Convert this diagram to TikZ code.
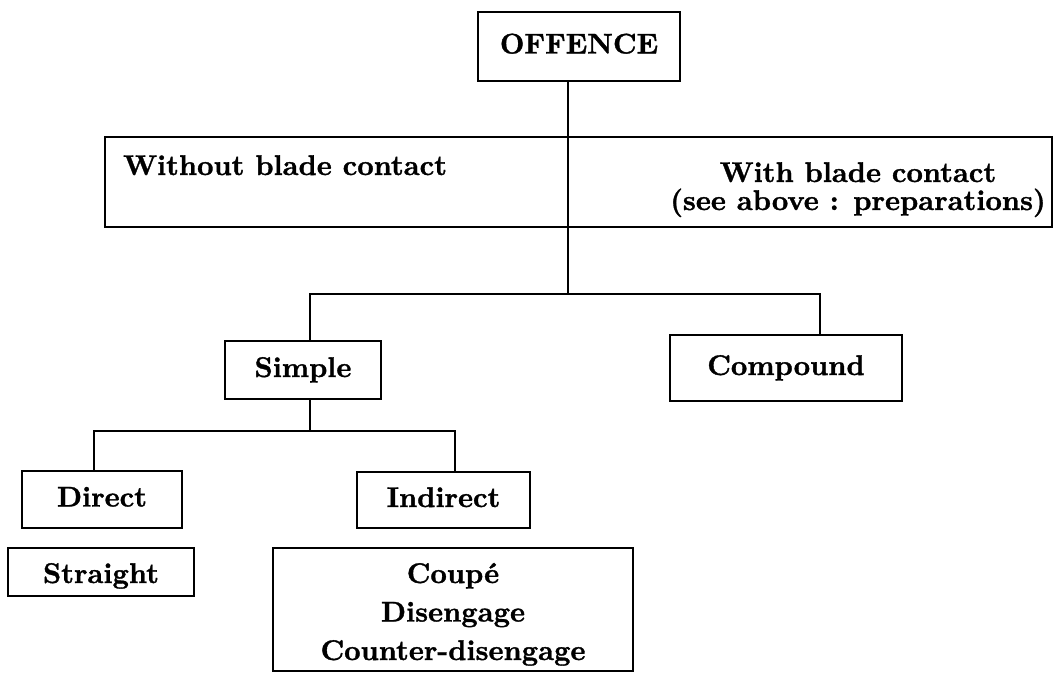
\documentclass[tikz,border=0pt]{standalone}
\usepackage{fontspec}
\newfontfamily\heavy{lmroman10-bold.otf}[FakeBold=1.2]
\begin{document}
\begin{tikzpicture}[x=1pt,y=-1pt,
  every node/.style={font=\fontsize{28.5}{38.5}\selectfont\heavy, inner sep=0pt},
  box/.style={draw, line width=2.6pt, text height=20pt, text depth=6pt},
  link/.style={line width=2.6pt}]
\useasboundingbox (0,0) rectangle (1055,673);
% boxes
\node[box, minimum width=202, minimum height=69] (offence) at (579,46.5) {OFFENCE};
\node[box, minimum width=947, minimum height=90] (blade) at (578.5,182) {};
\node[anchor=base west] (without) at (123,175) {Without blade contact};
\node[anchor=base, align=center, font=\fontsize{28.5}{28}\selectfont\heavy] (with) at (858,210) {With blade contact\\(see above : preparations)};
\node[box, minimum width=156, minimum height=58] (simple) at (303,370) {Simple};
\node[box, minimum width=232, minimum height=66] (compound) at (786,368) {Compound};
\node[box, minimum width=160, minimum height=57] (direct) at (102,499.5) {Direct};
\node[box, minimum width=173, minimum height=56] (indirect) at (443.5,500) {Indirect};
\node[box, minimum width=186, minimum height=48, text height=24pt, text depth=2pt] (straight) at (101,572) {Straight};
\node[box, align=center, minimum width=360, minimum height=123, text height=105pt, text depth=4pt] (coupe) at (453,609.5) {Coupé\\Disengage\\Counter-disengage};
% junctions
\coordinate (j1) at (568,294);
\coordinate (j2) at (310,431);
\coordinate (cx) at (820,0);
\coordinate (dx) at (94,0);
\coordinate (ix) at (455,0);
% connectors
\draw[link] (offence.south -| j1) -- (j1);
\draw[link] (simple.north -| j2) |- (j1) -| (compound.north -| cx);
\draw[link] (simple.south -| j2) -- (j2);
\draw[link] (direct.north -| dx) |- (j2) -| (indirect.north -| ix);
\end{tikzpicture}
\end{document}
